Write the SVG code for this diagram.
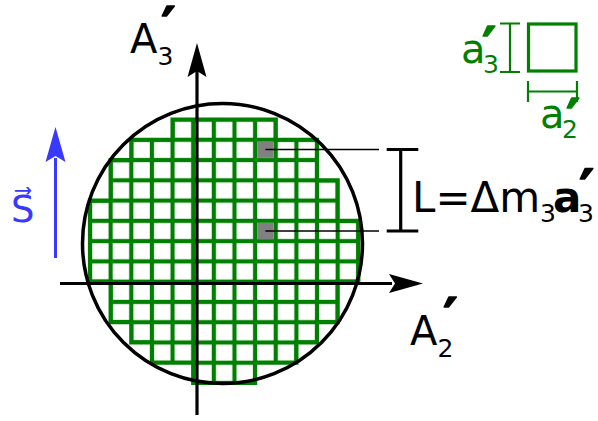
<svg xmlns="http://www.w3.org/2000/svg" width="598" height="421" viewBox="0 0 598 421">
<defs>
<style>
text{font-family:"DejaVu Sans","Liberation Sans",sans-serif}
.g{fill:#008000}
.k{fill:#000}
.b{fill:#3838ff}
.pr{font-weight:bold;stroke-width:1.3;stroke-linejoin:round}
.k.pr{stroke:#000}
.g.pr{stroke:#008000}
.ax{stroke:#000;stroke-width:3.2;fill:none}
.thin{stroke:#000;stroke-width:1.6;fill:none}
.gl{stroke:#008000;stroke-width:2.2;fill:none}
</style>
<pattern id="cells" patternUnits="userSpaceOnUse" x="90" y="119.5" width="20.64" height="20.27">
<rect x="0" y="0" width="20.64" height="20.27" fill="#fff" stroke="#008000" stroke-width="4.2"/>
</pattern>
</defs>
<rect width="598" height="421" fill="#fff"/>
<g id="grid">
<path fill="url(#cells)" stroke="#008000" stroke-width="4.2" d="M172.56,119.5 H275.76 V139.77 H317.04 V180.31 H337.68 V220.85 H358.32 V281.66 H337.68 V322.2 H317.04 V342.47 H296.4 V362.74 H255.12 V383.01 H193.2 V362.74 H151.92 V342.47 H131.28 V322.2 H110.64 V281.66 H90 V200.58 H110.64 V160.04 H131.28 V139.77 H172.56 Z"/>
<rect x="257.2" y="141.9" width="16.5" height="16" fill="#808080"/>
<rect x="257.2" y="223" width="16.5" height="16" fill="#808080"/>
</g>
<g id="circle">
<circle cx="222.5" cy="243.5" r="140" fill="none" stroke="#000" stroke-width="3.5"/>
</g>
<g id="connectors">
<line class="thin" x1="265.4" y1="149.5" x2="379" y2="149.5"/>
<line class="thin" x1="265.4" y1="231" x2="379" y2="231"/>
<path class="ax" d="M197,415 V70"/>
<path class="k" d="M197,43 L206.5,77 L197,71 L187.5,77 Z"/>
<path class="ax" d="M60,283.5 H392"/>
<path class="k" d="M423,283.5 L389,274 L395,283.5 L389,293 Z"/>
</g>
<g id="bracket-L">
<path class="ax" d="M386.7,149.5 H418.3 M400.7,149.5 V231 M386.7,231 H418.3"/>
<text y="212" font-size="42" class="k"><tspan x="412">L=Δm</tspan><tspan x="540" y="222" font-size="25">3</tspan><tspan x="553" y="212" font-weight="bold">a</tspan><tspan x="578" y="222" font-size="25">3</tspan></text>
<text x="579" y="211" font-size="58" class="k pr">′</text>
</g>
<g id="label-A3">
<text x="130" y="53" font-size="40" class="k">A<tspan font-size="25" dy="12">3</tspan></text>
<text x="161" y="46" font-size="56" class="k pr">′</text>
</g>
<g id="label-A2">
<text x="410" y="345" font-size="40" class="k">A<tspan font-size="25" dy="12">2</tspan></text>
<text x="443" y="337" font-size="56" class="k pr">′</text>
</g>
<g id="vector-S">
<path d="M55.5,258 V158" stroke="#3838ff" stroke-width="3" fill="none"/>
<path class="b" d="M55.5,127 L65.5,162 L55.5,156 L45.5,162 Z"/>
<text x="11" y="222" font-size="37" class="b">S⃗</text>
</g>
<g id="legend">
<rect x="528.5" y="24" width="47.5" height="47" fill="none" stroke="#008000" stroke-width="3.2"/>
<path class="gl" d="M500,23.5 H520 M510,23.5 V72 M500,72 H520 M528,91.5 H577 M528,81 V102 M577,81 V102"/>
<text y="63" font-size="40" class="g"><tspan x="461">a</tspan><tspan x="483" y="73" font-size="25">3</tspan></text>
<text x="482" y="65" font-size="54" class="g pr">′</text>
<text y="128" font-size="40" class="g"><tspan x="540">a</tspan><tspan x="562" y="138" font-size="25">2</tspan></text>
<text x="566" y="137" font-size="54" class="g pr">′</text>
</g>
</svg>
